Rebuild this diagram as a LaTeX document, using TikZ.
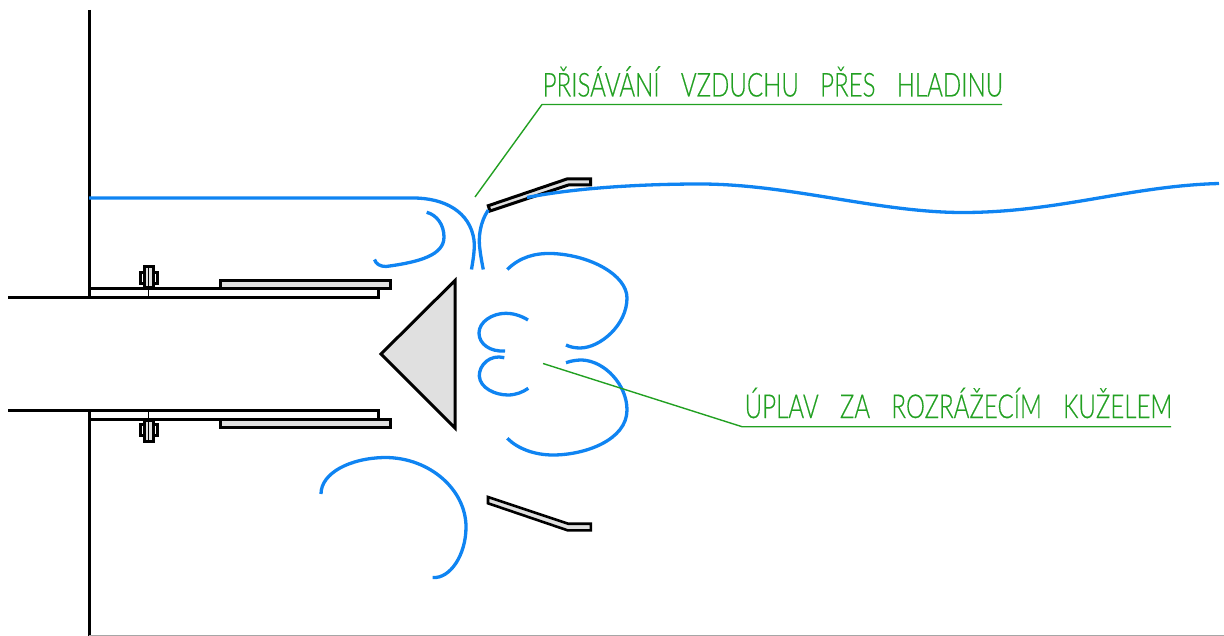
\documentclass[tikz,border=0pt]{standalone}
\usepackage{fontspec}
\setmainfont[FakeStretch=0.73,FakeBold=0.35]{Lato Light}
\definecolor{flow}{HTML}{0F84F2}
\definecolor{lead}{HTML}{22A022}
\definecolor{metal}{HTML}{E0E0E0}
\tikzset{
  part/.style={draw=black,line width=3pt,line join=miter},
  metalpart/.style={part,fill=metal},
  thin part/.style={draw=black,line width=1.2pt},
  flowline/.style={draw=flow,line width=3.3pt,line cap=butt},
  leader/.style={draw=lead,line width=1.4pt},
  callout/.style={text=lead,font=\fontsize{33}{33}\selectfont,inner sep=0pt,anchor=base west}
}
\begin{document}
\begin{tikzpicture}[x=1pt,y=-1pt]
\useasboundingbox (0,0) rectangle (1224,636);
% wall and frame
\draw[part] (89,10) -- (89,297);
\draw[part] (89,411) -- (89,636);
\draw[draw=black!35,line width=1pt] (89,635.5) -- (1224,635.5);
% duct
\draw[part] (8,297.3) -- (378.7,297.3) -- (378.7,288.8) -- (89,288.8);
\draw[part] (8,410.7) -- (378.7,410.7) -- (378.7,419.2) -- (89,419.2);
% plates
\draw[metalpart] (220.7,280.3) rectangle (390,289);
\draw[metalpart] (220.7,419) rectangle (390,427.7);
% bolts
\draw[part,fill=white] (140.5,272.5) rectangle (157,283.5);
\draw[part,fill=metal] (144.5,266.5) rectangle (153,288);
\draw[thin part] (148.7,266.5) -- (148.7,297);
\draw[part,fill=white] (140.5,424.5) rectangle (157,435.5);
\draw[part,fill=metal] (144.5,420) rectangle (153,441.5);
\draw[thin part] (148.7,411) -- (148.7,441.5);
% cone
\draw[metalpart,line width=3pt] (455,280.5) -- (381,354) -- (455,428) -- cycle;
% deflectors
\draw[metalpart,line width=3pt] (488.3,205.7) -- (567.5,178.8) -- (590.5,178.8) -- (590.5,185) -- (568.5,185) -- (490,211) -- cycle;
\draw[metalpart,line width=2.6pt] (488,497) -- (488,503.3) -- (567.5,530.3) -- (590.8,530.3) -- (590.8,523.7) -- (568,523.7) -- cycle;
% flow
\draw[flowline] (89,198) -- (413,198) .. controls (445,198) and (470,212) .. (474,240) .. controls (475,250) and (473,260) .. (471.5,269.5);
\draw[flowline] (488.3,210) .. controls (480,222) and (478,238) .. (480,250) .. controls (481,258) and (482,263) .. (483.3,269.5);
\draw[flowline] (426.7,212.3) .. controls (437,215) and (444,225) .. (444,237) .. controls (444,255) and (420,262) .. (386,266.5) .. controls (380,266.5) and (376,264) .. (374.5,259.5);
\draw[flowline] (507.3,269.5) .. controls (520,257) and (535,253) .. (552,253.5) .. controls (590,255) and (627,275) .. (627,298) .. controls (627,325) and (600,348) .. (580,348) .. controls (575,348) and (570,347) .. (566,345);
\draw[flowline] (528,320) .. controls (520,315) and (512,313.3) .. (506,313.3) .. controls (492,313.3) and (479,322) .. (479,333) .. controls (479,344) and (490,352) .. (505,351);
\draw[flowline] (504.3,357.7) .. controls (490,354) and (479,365) .. (479.3,376) .. controls (480,388) and (495,395) .. (508,395) .. controls (516,395) and (523,392) .. (528.3,388.3);
\draw[flowline] (566,362.7) .. controls (572,360.5) and (578,360) .. (582,360) .. controls (605,361) and (627,385) .. (627,410) .. controls (627,440) and (585,455) .. (553,455) .. controls (535,455) and (518,449) .. (507.3,438.3);
\draw[flowline] (321,494) .. controls (321,473) and (350,458) .. (385,457.5) .. controls (430,457.5) and (466,490) .. (466,527) .. controls (466,555) and (450,579) .. (432.7,577.5);
\draw[flowline] (527,197.5) .. controls (580,187) and (650,184) .. (700,184) .. controls (790,184) and (880,213) .. (965,212.5) .. controls (1060,212) and (1130,186) .. (1219,183.5);
% callouts
\node[callout] (upper) at (542.5,96.5) {PŘISÁVÁNÍ\hspace{14.7pt} VZDUCHU\hspace{14.7pt} PŘES\hspace{14.7pt} HLADINU};
\node[callout] (lower) at (744.5,418) {ÚPLAV\hspace{14.7pt} ZA\hspace{14.7pt} ROZRÁŽECÍM\hspace{14.7pt} KUŽELEM};
\coordinate (uppertip) at (475,197);
\coordinate (upperknee) at (542,104.5);
\coordinate (upperend) at (1002,104.5);
\coordinate (lowertip) at (543,363.5);
\coordinate (lowerknee) at (742,426.7);
\coordinate (lowerend) at (1171,426.7);
\draw[leader] (uppertip) -- (upperknee) -- (upperend);
\draw[leader] (lowertip) -- (lowerknee) -- (lowerend);
\end{tikzpicture}
\end{document}
